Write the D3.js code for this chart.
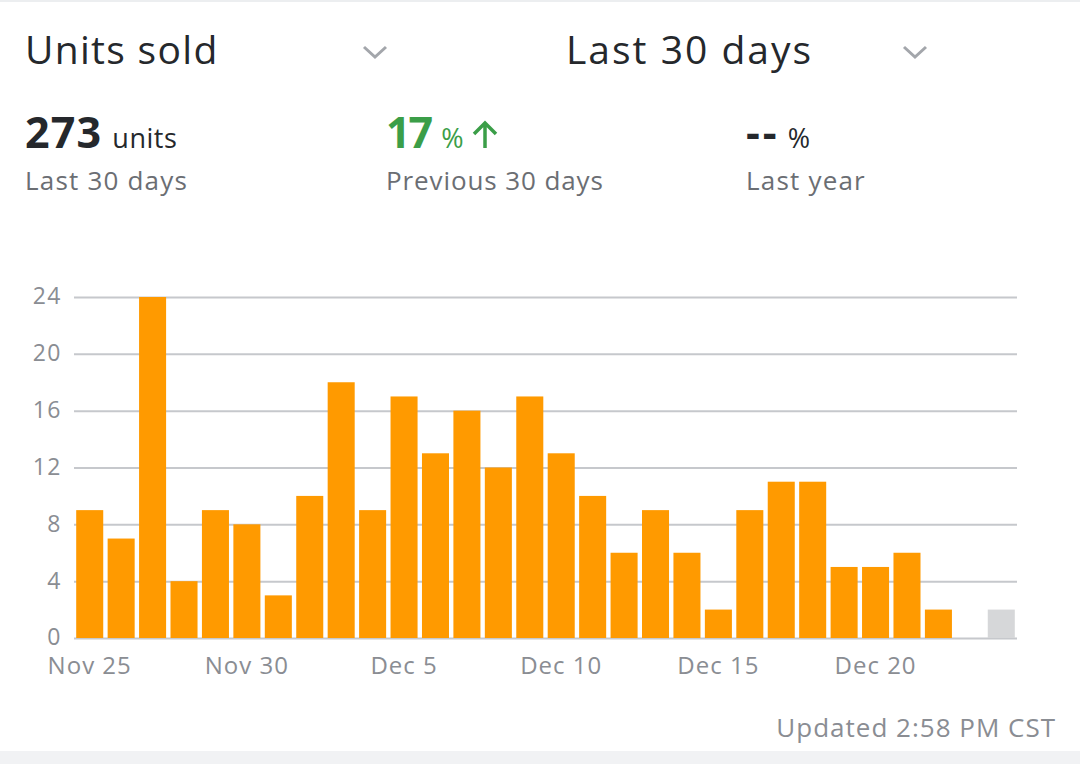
<!DOCTYPE html>
<html>
<head>
<meta charset="utf-8">
<script src="https://cdn.jsdelivr.net/npm/d3@7"></script>
<style>
  body { margin: 0; background: #fff; }
  svg text { font-family: "Open Sans", sans-serif; }
</style>
</head>
<body>
<svg id="chart" width="1080" height="764"></svg>
<script>
// daily units, Nov 25 .. Dec 24 (last day still in progress)
const days = ['Nov 25','Nov 26','Nov 27','Nov 28','Nov 29','Nov 30','Dec 1','Dec 2','Dec 3','Dec 4',
  'Dec 5','Dec 6','Dec 7','Dec 8','Dec 9','Dec 10','Dec 11','Dec 12','Dec 13','Dec 14',
  'Dec 15','Dec 16','Dec 17','Dec 18','Dec 19','Dec 20','Dec 21','Dec 22','Dec 23','Dec 24'];
const units = [9,7,24,4,9,8,3,10,18,9,17,13,16,12,17,13,10,6,9,6,2,9,11,11,5,5,6,2,0,2];
const partialDay = 'Dec 24';
const tickDays = ['Nov 25','Nov 30','Dec 5','Dec 10','Dec 15','Dec 20'];
const yTicks = [0,4,8,12,16,20,24];

const svg = d3.select('#chart');

// top rule and bottom strip
svg.append('rect').attr('x', 0).attr('y', 0).attr('width', 1080).attr('height', 2).attr('fill', '#eceef0');
svg.append('rect').attr('x', 0).attr('y', 751).attr('width', 1080).attr('height', 13).attr('fill', '#f1f2f4');

// header dropdowns
const chevron = (cx, cy) => svg.append('path')
  .attr('d', `M${cx - 11},${cy - 5} L${cx},${cy + 5} L${cx + 11},${cy - 5}`)
  .attr('fill', 'none').attr('stroke', '#a3a6ab').attr('stroke-width', 3);

svg.append('text').attr('x', 25).attr('y', 64).attr('font-size', 39).attr('letter-spacing', 1.3)
  .attr('fill', '#25282c').text('Units sold');
chevron(375, 52);
svg.append('text').attr('x', 566).attr('y', 64).attr('font-size', 39).attr('letter-spacing', 2)
  .attr('fill', '#25282c').text('Last 30 days');
chevron(915, 52);

// summary stats
const sub = (x, label, ls) => svg.append('text').attr('x', x).attr('y', 190).attr('font-size', 26)
  .attr('letter-spacing', ls).attr('fill', '#6b6e73').text(label);

const s1 = svg.append('text').attr('x', 25).attr('y', 148).attr('fill', '#25282c');
s1.append('tspan').attr('font-size', 43).attr('font-weight', 700).attr('letter-spacing', 1.2).text('273');
s1.append('tspan').attr('font-size', 27).attr('dx', 10).attr('letter-spacing', 0.5).text('units');
sub(25, 'Last 30 days', 1.2);

const s2 = svg.append('text').attr('x', 386).attr('y', 148).attr('fill', '#3b9e48');
s2.append('tspan').attr('font-size', 43).attr('font-weight', 700).attr('letter-spacing', -2).text('17');
s2.append('tspan').attr('font-size', 27).attr('dx', 10).text('%');
svg.append('path')
  .attr('d', 'M485,148 L485,123 M474,134 L485,123 L496,134')
  .attr('fill', 'none').attr('stroke', '#3b9e48').attr('stroke-width', 3.5);
sub(386, 'Previous 30 days', 0.9);

const s3 = svg.append('text').attr('x', 746).attr('y', 148).attr('fill', '#25282c');
s3.append('tspan').attr('font-size', 43).attr('font-weight', 700).attr('letter-spacing', 3).text('--');
s3.append('tspan').attr('font-size', 27).attr('dx', 8).text('%');
sub(746, 'Last year', 1.2);

// chart
const x = d3.scaleBand().domain(days).range([74, 1017]).paddingInner(0.14).paddingOuter(0.07);
const y = d3.scaleLinear().domain([0, 24]).range([638, 297]);

const yAxis = svg.append('g')
  .attr('transform', 'translate(74,0)')
  .call(d3.axisLeft(y).tickValues(yTicks).tickSize(-943).tickPadding(12));
yAxis.select('.domain').remove();
yAxis.selectAll('line').attr('stroke', '#c6c8cc').attr('stroke-width', 2);
yAxis.selectAll('text').attr('font-size', 23).attr('letter-spacing', 1.5).attr('dy', '0.3em')
  .attr('fill', '#8a8d93').attr('font-family', '"Open Sans", sans-serif');

svg.selectAll('rect.bar')
  .data(days)
  .enter()
  .append('rect')
  .attr('class', 'bar')
  .attr('x', d => x(d))
  .attr('width', x.bandwidth())
  .attr('y', (d, i) => y(units[i]))
  .attr('height', (d, i) => y(0) - y(units[i]))
  .attr('fill', d => d === partialDay ? '#d6d7d9' : '#ff9a00');

const xAxis = svg.append('g')
  .attr('transform', 'translate(0,638)')
  .call(d3.axisBottom(x).tickValues(tickDays).tickSize(0).tickPadding(19));
xAxis.select('.domain').remove();
xAxis.selectAll('text').attr('font-size', 24).attr('letter-spacing', 1)
  .attr('fill', '#8a8d93').attr('font-family', '"Open Sans", sans-serif');

svg.append('text').attr('x', 1056).attr('y', 737).attr('text-anchor', 'end')
  .attr('font-size', 26).attr('letter-spacing', 1).attr('fill', '#8a8d93').text('Updated 2:58 PM CST');
</script>
</body>
</html>
